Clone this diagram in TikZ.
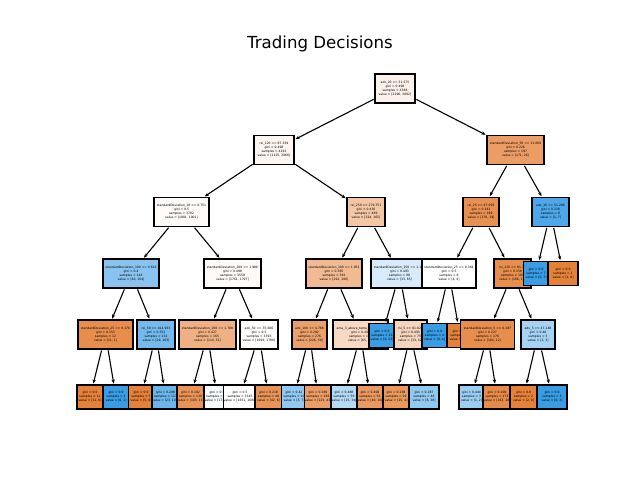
\documentclass[tikz,border=0pt]{standalone}
\usepackage{fontspec}
\setmainfont{DejaVu Sans}
\usetikzlibrary{arrows.meta}
\definecolor{cls0}{RGB}{229,129,57}
\definecolor{cls1}{RGB}{57,157,229}
\tikzset{
  tbox/.style={draw=black, line width=0.9pt, minimum height=20.9pt, inner sep=0pt,
    align=center, font=\fontsize{2.2}{2.9}\selectfont},
  leafbox/.style={tbox, minimum height=17.3pt},
  wd/.style={minimum width=#1*0.7227pt},
  edge/.style={-{Stealth[length=3pt,width=2.4pt]}, line width=0.8pt, shorten >=0.6pt, shorten <=0.6pt}
}
\begin{document}
\begin{tikzpicture}[x=0.01in, y=-0.01in]
  \useasboundingbox (0,0) rectangle (640,480);
  \node[font=\fontsize{12}{14}\selectfont] (title) at (320,44) {Trading Decisions};

  % Wurzel und erste Ebene
  \node[tbox, wd=40, fill=cls0!10] (n0) at (395,88.5) {adx\_20 <= 51.575\\gini = 0.498\\samples = 4388\\value = [2296, 2092]};
  \node[tbox, wd=40, fill=cls0!8] (n1) at (274,150) {rsi\_120 <= 87.339\\gini = 0.498\\samples = 4191\\value = [2125, 2066]};
  % linker Teilbaum
  \node[tbox, wd=55, fill=cls0!3] (n3) at (181.5,212) {standardDeviation\_10 <= 0.751\\gini = 0.5\\samples = 3702\\value = [1801, 1901]};
  \node[tbox, wd=56, fill=cls1!60] (n7) at (131,273.5) {standardDeviation\_100 <= 0.616\\gini = 0.4\\samples = 144\\value = [40, 104]};
  \node[tbox, wd=55, fill=cls0!90] (n15) at (105.5,334.5) {standardDeviation\_25 <= 0.176\\gini = 0.153\\samples = 12\\value = [11, 1]};
  \node[leafbox, wd=26, fill=cls0] (n27) at (90,397) {gini = 0.0\\samples = 11\\value = [11, 0]};
  \node[leafbox, wd=26, fill=cls1] (n28) at (116,397) {gini = 0.0\\samples = 1\\value = [0, 1]};
  \node[tbox, wd=38, fill=cls1!70] (n16) at (156,334.5) {rsi\_50 <= 414.933\\gini = 0.351\\samples = 132\\value = [29, 103]};
  \node[leafbox, wd=25, fill=cls0] (n29) at (141,397) {gini = 0.0\\samples = 5\\value = [5, 0]};
  \node[leafbox, wd=25, fill=cls1!75] (n30) at (165.5,397) {gini = 0.298\\samples = 127\\value = [23, 103]};
  \node[tbox, wd=57, fill=cls0!4] (n8) at (232.5,273.5) {standardDeviation\_200 <= 1.986\\gini = 0.499\\samples = 3558\\value = [1761, 1797]};
  \node[tbox, wd=57, fill=cls0!62] (n17) at (207.5,334.5) {standardDeviation\_200 <= 1.788\\gini = 0.427\\samples = 165\\value = [114, 51]};
  \node[leafbox, wd=27, fill=cls0!85] (n31) at (190.5,397) {gini = 0.102\\samples = 130\\value = [103, 11]};
  \node[leafbox, wd=26, fill=cls1!4] (n32) at (217,397) {gini = 0.5\\samples = 35\\value = [17, 18]};
  \node[tbox, wd=38, fill=cls0!1] (n18) at (259,334.5) {adx\_50 <= 35.606\\gini = 0.5\\samples = 3393\\value = [1693, 1700]};
  \node[leafbox, wd=30, fill=white] (n33) at (240,397) {gini = 0.5\\samples = 3345\\value = [1651, 1694]};
  \node[leafbox, wd=27, fill=cls0!85] (n34) at (268.5,397) {gini = 0.218\\samples = 48\\value = [42, 6]};
  \node[tbox, wd=38, fill=cls0!45] (n4) at (366,212) {rsi\_250 <= 279.751\\gini = 0.436\\samples = 489\\value = [324, 165]};
  \node[tbox, wd=56, fill=cls0!55] (n9) at (334,273.5) {standardDeviation\_100 <= 1.052\\gini = 0.365\\samples = 391\\value = [291, 100]};
  \node[tbox, wd=35, fill=cls0!75] (n19) at (309.5,334.5) {adx\_100 <= 4.788\\gini = 0.292\\samples = 276\\value = [226, 50]};
  \node[leafbox, wd=25, fill=cls1!55] (n35) at (294,397) {gini = 0.42\\samples = 10\\value = [3, 7]};
  \node[leafbox, wd=26, fill=cls0!78] (n36) at (318,397) {gini = 0.269\\samples = 266\\value = [223, 43]};
  \node[tbox, wd=55, fill=cls0!30] (n20) at (360.5,334.5) {ema\_3\_above\_tema\_20 <= 0.5\\gini = 0.492\\samples = 115\\value = [65, 50]};
  \node[leafbox, wd=26, fill=cls1!38] (n37) at (344,397) {gini = 0.488\\samples = 59\\value = [25, 34]};
  \node[leafbox, wd=26, fill=cls0!80] (n38) at (370,397) {gini = 0.408\\samples = 56\\value = [40, 16]};
  \node[tbox, wd=57, fill=cls1!20] (n10) at (399.5,273.5) {standardDeviation\_250 <= 1.163\\gini = 0.493\\samples = 98\\value = [33, 65]};
  \node[leafbox, wd=26, fill=cls1] (n21) at (382,335.5) {gini = 0.0\\samples = 23\\value = [0, 23]};
  \node[tbox, wd=33, fill=cls0!33] (n22) at (410.5,334.5) {rsi\_5 <= 61.825\\gini = 0.493\\samples = 75\\value = [33, 42]};
  \node[leafbox, wd=26, fill=cls0!82] (n39) at (396,397) {gini = 0.238\\samples = 29\\value = [25, 4]};
  \node[leafbox, wd=30, fill=cls1!55] (n40) at (424,397) {gini = 0.287\\samples = 46\\value = [8, 38]};
  % rechter Teilbaum
  \node[tbox, wd=57, fill=cls0!78] (n2) at (515.5,150) {standardDeviation\_50 <= 11.669\\gini = 0.226\\samples = 197\\value = [171, 26]};
  \node[tbox, wd=36, fill=cls0!88] (n5) at (481,212) {rsi\_25 <= 47.093\\gini = 0.181\\samples = 189\\value = [170, 19]};
  \node[tbox, wd=54, fill=white] (n11) at (449,273.5) {standardDeviation\_25 <= 0.364\\gini = 0.5\\samples = 8\\value = [4, 4]};
  \node[leafbox, wd=25, fill=cls1] (n23) at (434.5,335.5) {gini = 0.0\\samples = 4\\value = [0, 4]};
  \node[leafbox, wd=26, fill=cls0] (n24) at (460,335.5) {gini = 0.0\\samples = 4\\value = [4, 0]};
  \node[tbox, wd=37, fill=cls0!90] (n12) at (512.5,273.5) {rsi\_120 <= 81.79\\gini = 0.159\\samples = 181\\value = [166, 15]};
  \node[tbox, wd=54, fill=cls0!90] (n25) at (487.5,334.5) {standardDeviation\_5 <= 0.187\\gini = 0.127\\samples = 176\\value = [164, 12]};
  \node[leafbox, wd=25, fill=cls1!50] (n41) at (471.5,397) {gini = 0.444\\samples = 3\\value = [1, 2]};
  \node[leafbox, wd=28, fill=cls0!92] (n42) at (497,397) {gini = 0.109\\samples = 173\\value = [163, 10]};
  \node[tbox, wd=34, fill=cls1!45] (n26) at (538,334.5) {adx\_5 <= 47.148\\gini = 0.48\\samples = 5\\value = [2, 3]};
  \node[leafbox, wd=27, fill=cls0] (n43) at (523.5,397) {gini = 0.0\\samples = 2\\value = [2, 0]};
  \node[leafbox, wd=30, fill=cls1] (n44) at (552,397) {gini = 0.0\\samples = 3\\value = [0, 3]};
  \node[tbox, wd=37, fill=cls1!90] (n6) at (550.5,212) {adx\_10 <= 51.296\\gini = 0.219\\samples = 8\\value = [1, 7]};
  \node[leafbox, wd=25, fill=cls1] (n13) at (536,273.5) {gini = 0.0\\samples = 7\\value = [0, 7]};
  \node[leafbox, wd=30, fill=cls0] (n14) at (563,273.5) {gini = 0.0\\samples = 1\\value = [1, 0]};

  % Verbindungen
  \foreach \p/\c in {n0/n1, n0/n2, n1/n3, n1/n4, n2/n5, n2/n6, n3/n7, n3/n8, n4/n9, n4/n10,
      n5/n11, n5/n12, n6/n13, n6/n14, n7/n15, n7/n16, n8/n17, n8/n18, n9/n19, n9/n20,
      n10/n21, n10/n22, n11/n23, n11/n24, n12/n25, n12/n26, n15/n27, n15/n28, n16/n29, n16/n30,
      n17/n31, n17/n32, n18/n33, n18/n34, n19/n35, n19/n36, n20/n37, n20/n38, n22/n39, n22/n40,
      n25/n41, n25/n42, n26/n43, n26/n44}
    \draw[edge] (\p) -- (\c);
\end{tikzpicture}
\end{document}
